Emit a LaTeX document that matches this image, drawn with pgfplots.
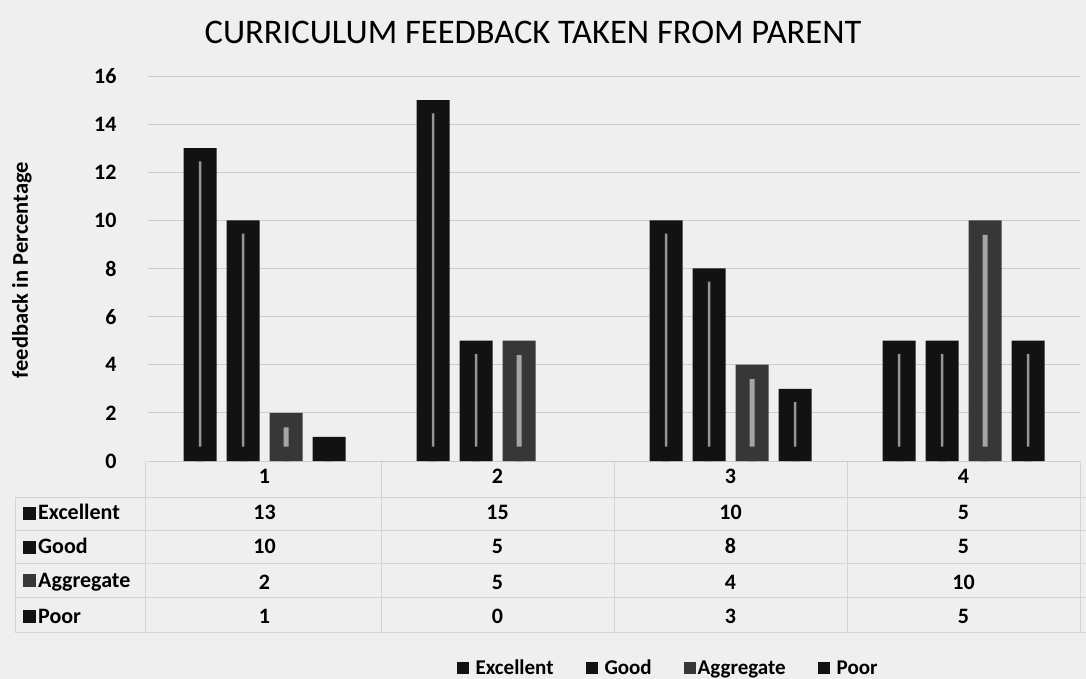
\documentclass[border=0pt]{standalone}
\usepackage{fontspec}
\setmainfont{Carlito}
\usepackage{pgfplots}
\usepackage{pgfplotstable}
\pgfplotsset{compat=1.18}
\definecolor{bgcol}{RGB}{239,239,239}
\definecolor{barcol}{RGB}{18,18,18}
\definecolor{aggcol}{RGB}{55,55,55}
\definecolor{stripecol}{RGB}{150,150,150}
\definecolor{aggstripe}{RGB}{165,165,165}

\pgfplotstableread{
cat Excellent Good Aggregate Poor
1 13 10 2 1
2 15 5 5 0
3 10 8 4 3
4 5 5 10 5
}\datatable

\newcommand\fsz[1]{\fontsize{#1}{#1}\selectfont}

\begin{document}
\begin{tikzpicture}
\useasboundingbox (0,0) rectangle (1086bp,679bp);
\fill[bgcol] (0,0) rectangle (1086bp,679bp);
\node[font=\fsz{34.5bp}] at (533bp,647bp) {CURRICULUM FEEDBACK TAKEN FROM PARENT};
\node[rotate=90, font=\fsz{22.5bp}\bfseries] at (22bp,409bp) {feedback in Percentage};
% table grid
\begin{scope}[draw=black!17, line width=0.8bp]
\foreach \y in {182,149,116,82,47} \draw (15bp,\y bp) -- (1086bp,\y bp);
\draw (15bp,182bp) -- (15bp,47bp);
\foreach \x in {145,381,614,847,1080} \draw (\x bp,218bp) -- (\x bp,47bp);
\end{scope}

\begin{axis}[
  at={(148bp,218bp)}, anchor=south west,
  scale only axis, width=932bp, height=385bp,
  xmin=0.5, xmax=4.5, ymin=0, ymax=16,
  ytick={0,2,...,16}, xtick={1,2,3,4},
  ybar, bar width=33bp,
  ymajorgrids, grid style={black!20, line width=0.8bp},
  axis line style={draw=none}, major tick length=0pt,
  /pgf/number format/assume math mode=true,
  tick label style={font=\fsz{22bp}\bfseries},
  yticklabel style={xshift=-28bp},
  xticklabel style={yshift=-5bp},
  clip=false,
  legend columns=4,
  legend style={draw=none, fill=none, font=\fsz{21bp}\bfseries,
    at={(0.558,-0.5377)}, anchor=center,
    /tikz/every even column/.append style={column sep=30bp}},
  legend image code/.code={\fill (0bp,-6bp) rectangle (12bp,6bp);},
]
\addplot[draw=none, fill=barcol, bar shift=-64.5bp]
  table[x=cat, y=Excellent]{\datatable};
\addplot[draw=none, fill=barcol, bar shift=-21.5bp]
  table[x=cat, y=Good]{\datatable};
\addplot[draw=none, fill=aggcol, bar shift=21.5bp]
  table[x=cat, y=Aggregate]{\datatable};
\addplot[draw=none, fill=barcol, bar shift=64.5bp,
  y filter/.expression={y==0 ? nan : y}]
  table[x=cat, y=Poor]{\datatable};
\legend{\hspace{5bp}Excellent, \hspace{5bp}Good, Aggregate, \hspace{5bp}Poor}
% light centre stripes of the bars
\addplot[forget plot, draw=none, fill=stripecol, bar width=2.5bp, bar shift=-64.5bp]
  table[x=cat, y expr={max(\thisrow{Excellent}-0.55,0)}]{\datatable};
\addplot[forget plot, draw=none, fill=stripecol, bar width=2.5bp, bar shift=-21.5bp]
  table[x=cat, y expr={max(\thisrow{Good}-0.55,0)}]{\datatable};
\addplot[forget plot, draw=none, fill=aggstripe, bar width=5bp, bar shift=21.5bp]
  table[x=cat, y expr={max(\thisrow{Aggregate}-0.6,0)}]{\datatable};
\addplot[forget plot, draw=none, fill=stripecol, bar width=2.5bp, bar shift=64.5bp,
  y filter/.expression={y==0 ? nan : y}]
  table[x=cat, y expr={max(\thisrow{Poor}-0.55,0)}]{\datatable};
% dark foot of each bar, where the stripe stops
\addplot[forget plot, draw=none, fill=barcol, bar width=8bp, bar shift=-64.5bp]
  table[x=cat, y expr={min(\thisrow{Excellent},0.6)}]{\datatable};
\addplot[forget plot, draw=none, fill=barcol, bar width=8bp, bar shift=-21.5bp]
  table[x=cat, y expr={min(\thisrow{Good},0.6)}]{\datatable};
\addplot[forget plot, draw=none, fill=aggcol, bar width=8bp, bar shift=21.5bp]
  table[x=cat, y expr={min(\thisrow{Aggregate},0.6)}]{\datatable};
\addplot[forget plot, draw=none, fill=barcol, bar width=8bp, bar shift=64.5bp,
  y filter/.expression={y==0 ? nan : y}]
  table[x=cat, y expr={min(\thisrow{Poor},0.6)}]{\datatable};
\end{axis}

% data table below the chart
\foreach \col/\yy/\kc in {Excellent/167/barcol, Good/133/barcol, Aggregate/97/aggcol, Poor/63/barcol} {
  \node[anchor=west, font=\fsz{22bp}\bfseries, inner sep=0pt] at (23bp,\yy bp)
    {\textcolor{\kc}{\rule{13bp}{13bp}}\hspace{2bp}\col};
  \foreach \i in {0,1,2,3} {
    \pgfplotstablegetelem{\i}{\col}\of\datatable
    \pgfmathsetmacro\xx{264.5+233*\i}
    \node[font=\fsz{22bp}\bfseries] at (\xx bp,\yy bp) {\pgfplotsretval};
  }
}
\end{tikzpicture}
\end{document}
